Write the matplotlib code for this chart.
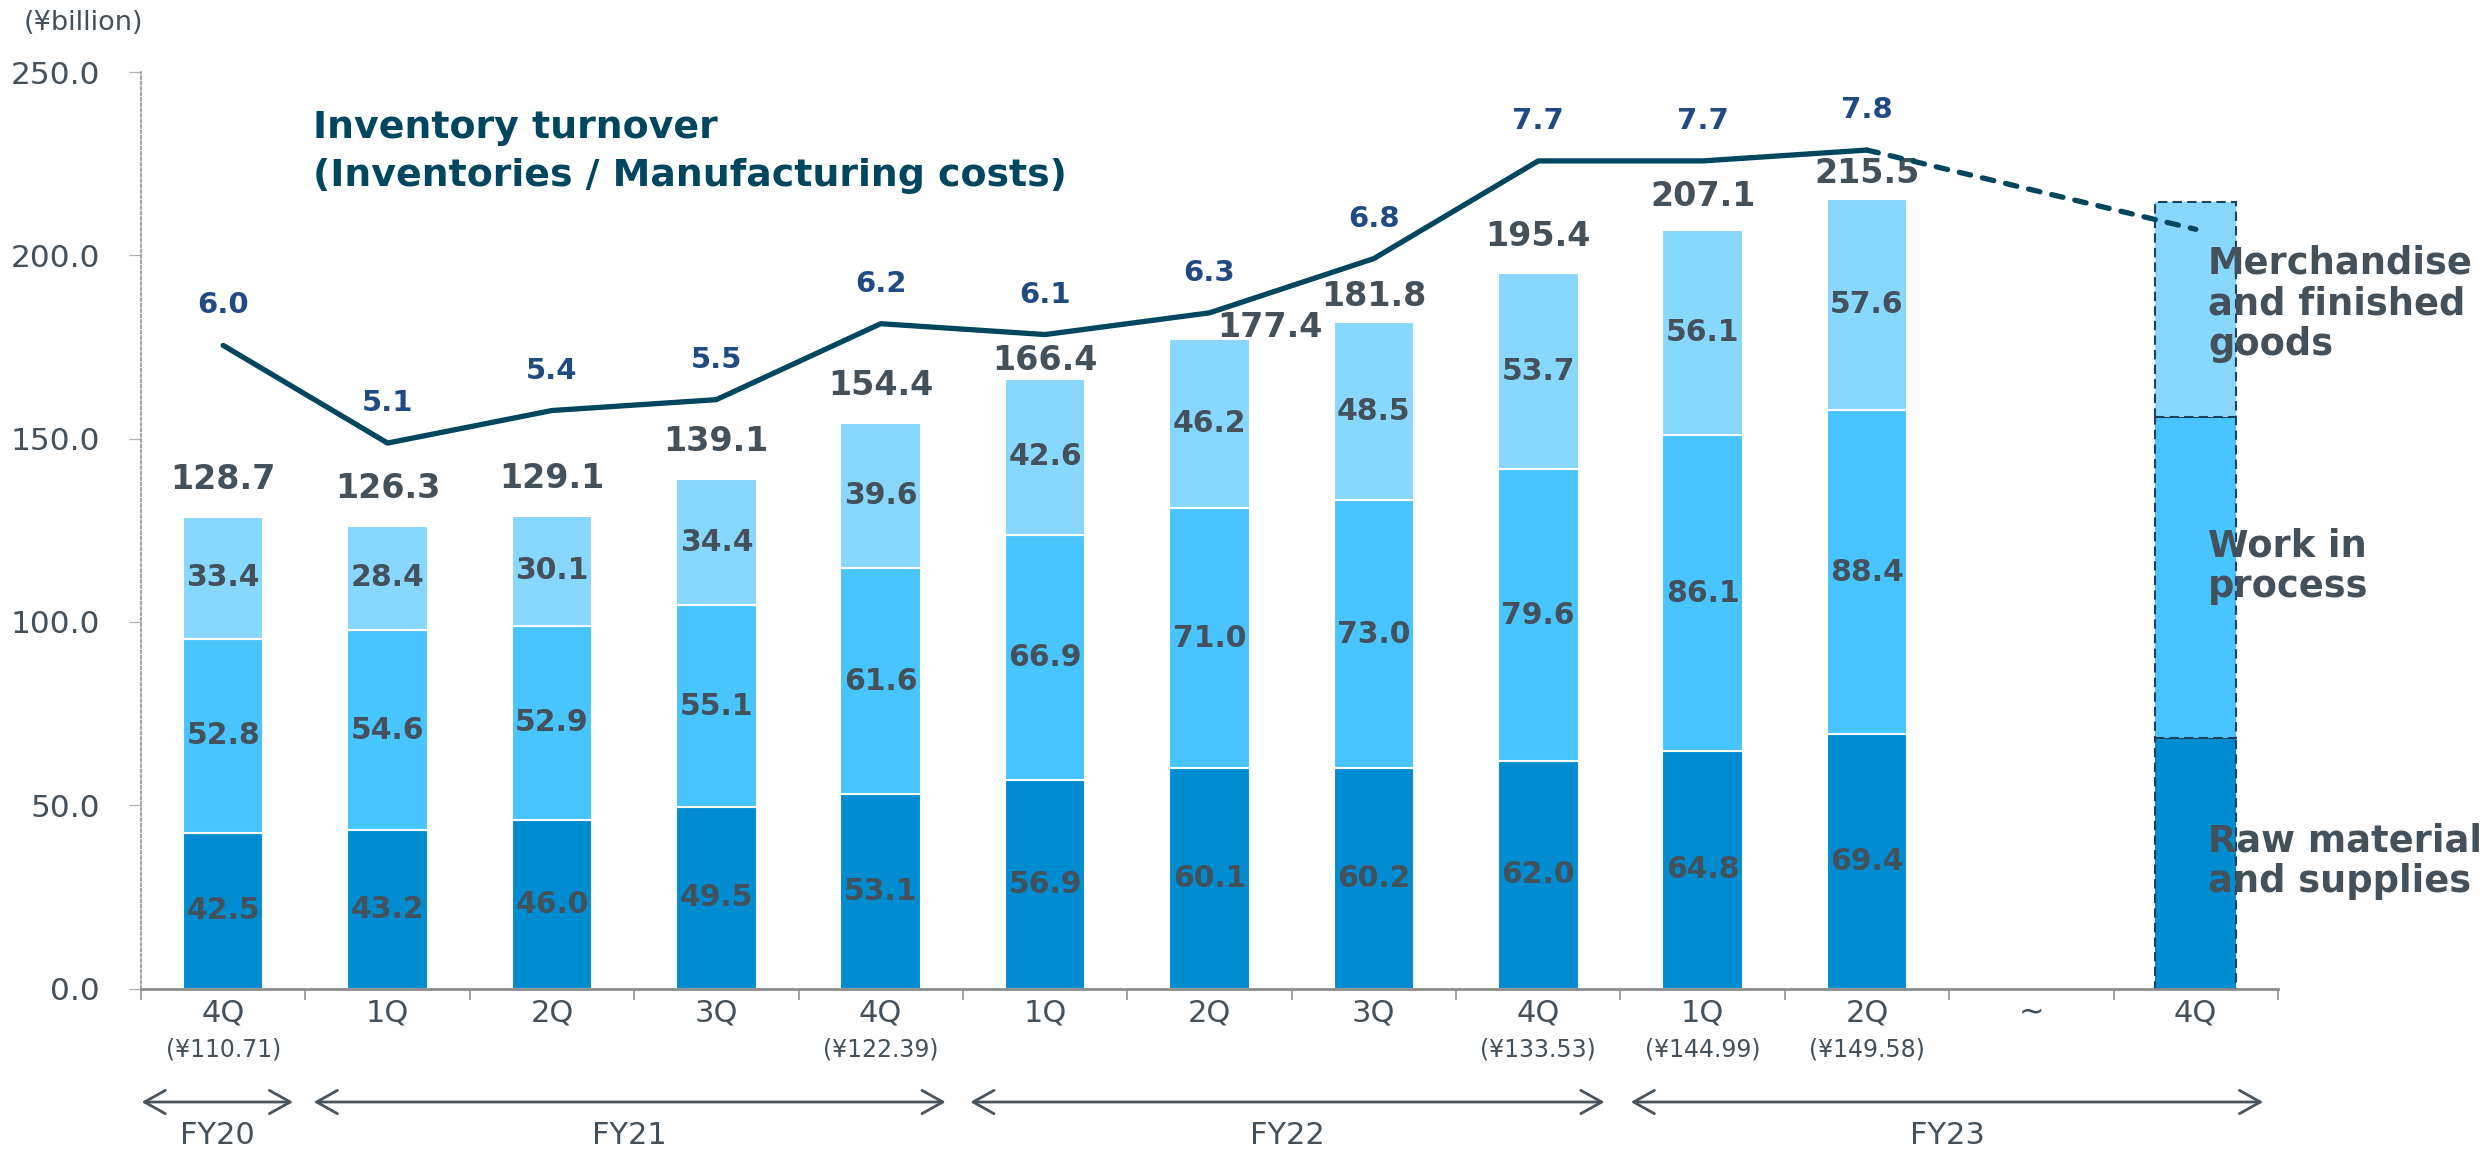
import numpy as np
import matplotlib
matplotlib.use("Agg")
import matplotlib.pyplot as plt
from matplotlib.patches import FancyArrowPatch, ArrowStyle
from matplotlib.transforms import blended_transform_factory
from matplotlib.ticker import FormatStrFormatter

plt.rcParams["font.family"] = ["DejaVu Sans"]

# ---------------------------------------------------------------- data
quarters = ["4Q", "1Q", "2Q", "3Q", "4Q", "1Q", "2Q", "3Q", "4Q", "1Q", "2Q", "\u223c", "4Q"]
fx_rates = ["(¥110.71)", "", "", "", "(¥122.39)", "", "", "", "(¥133.53)",
            "(¥144.99)", "(¥149.58)", "", ""]
fiscal_years = ["FY20", "FY21", "FY22", "FY23"]

raw_material = [42.5, 43.2, 46.0, 49.5, 53.1, 56.9, 60.1, 60.2, 62.0, 64.8, 69.4]
work_in_process = [52.8, 54.6, 52.9, 55.1, 61.6, 66.9, 71.0, 73.0, 79.6, 86.1, 88.4]
finished_goods = [33.4, 28.4, 30.1, 34.4, 39.6, 42.6, 46.2, 48.5, 53.7, 56.1, 57.6]
totals = [128.7, 126.3, 129.1, 139.1, 154.4, 166.4, 177.4, 181.8, 195.4, 207.1, 215.5]
turnover = [6.0, 5.1, 5.4, 5.5, 6.2, 6.1, 6.3, 6.8, 7.7, 7.7, 7.8]

# FY23 4Q outlook (drawn dashed, no value labels)
outlook_raw = 68.3
outlook_wip = 87.6
outlook_fin = 58.7
outlook_turnover = 7.07

# ---------------------------------------------------------------- style
C_RAW = "#008CD1"
C_WIP = "#48C4FF"
C_FIN = "#87D7FF"
C_LINE = "#00465F"
C_TURN_TXT = "#1F4A82"
C_TEXT = "#44505A"
C_AXIS = "#8C8C8C"
C_ARROW = "#4A545E"
BAR_W = 0.49

fig = plt.figure(figsize=(24.88, 11.49), dpi=100)
ax = fig.add_axes([0.05667, 0.1396, 0.8589, 0.7977])
ax2 = ax.twinx()

x_act = np.arange(len(raw_material))
x_out = 12

raw = np.array(raw_material)
wip = np.array(work_in_process)
fin = np.array(finished_goods)

# stacked bars
ax.bar(x_act, raw, BAR_W, color=C_RAW, edgecolor="white", linewidth=1.5, zorder=2)
ax.bar(x_act, wip, BAR_W, bottom=raw, color=C_WIP, edgecolor="white", linewidth=1.5, zorder=2)
ax.bar(x_act, fin, BAR_W, bottom=raw + wip, color=C_FIN, edgecolor="white", linewidth=1.5, zorder=2)

# outlook bar with dashed outline
dash_kw = dict(edgecolor="#1D4260", linewidth=1.5, linestyle=(0, (4.5, 2.5)), zorder=2)
ax.bar(x_out, outlook_raw, BAR_W, color=C_RAW, **dash_kw)
ax.bar(x_out, outlook_wip, BAR_W, bottom=outlook_raw, color=C_WIP, **dash_kw)
ax.bar(x_out, outlook_fin, BAR_W, bottom=outlook_raw + outlook_wip, color=C_FIN, **dash_kw)

# segment value labels
seg_kw = dict(ha="center", va="center", fontsize=21.5, fontweight="bold", color=C_TEXT, zorder=4)
for i in x_act:
    ax.text(i, raw[i] / 2, f"{raw[i]:.1f}", **seg_kw)
    ax.text(i, raw[i] + wip[i] / 2, f"{wip[i]:.1f}", **seg_kw)
    ax.text(i, raw[i] + wip[i] + fin[i] / 2, f"{fin[i]:.1f}", **seg_kw)

# total labels above bars (a few nudged clear of the turnover line)
total_shift = {5: (0, 18), 6: (60, 11), 7: (0, 26), 8: (0, 36), 9: (0, 33), 10: (0, 25)}
for i in x_act:
    dx, dy = total_shift.get(i, (0, 37))
    ax.annotate(f"{totals[i]:.1f}", (i, raw[i] + wip[i] + fin[i]), xytext=(dx, dy),
                textcoords="offset pixels", ha="center", va="center",
                fontsize=24, fontweight="bold", color=C_TEXT, zorder=4)

# axes styling
ax.set_xlim(-0.5, 12.5)
ax.set_ylim(0, 250)
ax.set_yticks(np.arange(0, 251, 50))
ax.yaxis.set_major_formatter(FormatStrFormatter("%.1f"))
ax.set_xticks(np.arange(-0.5, 13, 1))
ax.set_xticklabels([])
ax.tick_params(axis="x", length=8, width=1.1, color=C_AXIS, direction="out")
ax.tick_params(axis="y", length=8.5, width=0.9, color="#B0B0B0", pad=21,
               labelsize=22.5, labelcolor=C_TEXT)
for s in ("top", "right"):
    ax.spines[s].set_visible(False)
ax.spines["bottom"].set_color(C_AXIS)
ax.spines["bottom"].set_linewidth(2.0)
ax.spines["left"].set_color("#9A9A9A")
ax.spines["left"].set_linewidth(1.3)
ax.spines["left"].set_linestyle((0, (1.5, 1.5)))

# turnover line on a hidden secondary scale
ax2.set_ylim(0.073, 8.519)
ax2.axis("off")
ax2.plot(x_act, turnover, color=C_LINE, lw=3.8, solid_capstyle="round",
         solid_joinstyle="round", zorder=3)
ax2.plot([x_act[-1], x_out], [turnover[-1], outlook_turnover], color=C_LINE, lw=3.8,
         linestyle=(0, (2.2, 2.3)), dash_capstyle="round", zorder=3)
for i, t in zip(x_act, turnover):
    ax2.annotate(f"{t:.1f}", (i, t), xytext=(0, 40), textcoords="offset pixels",
                 ha="center", va="center", fontsize=21, fontweight="bold", color=C_TURN_TXT)

# category labels, exchange rates, fiscal-year spans
bt = blended_transform_factory(ax.transData, fig.transFigure)
for i, (q, fx) in enumerate(zip(quarters, fx_rates)):
    fig.text(i, 0.1185, q, transform=bt, ha="center", va="center", fontsize=22, color=C_TEXT)
    if fx:
        fig.text(i, 0.0865, fx, transform=bt, ha="center", va="center", fontsize=17, color=C_TEXT)

fy_spans = [(-0.496, 0.425), (0.551, 4.395), (4.545, 8.403), (8.563, 12.41)]
arrow_style = ArrowStyle("<->", head_length=0.75, head_width=0.42)
for fy, (a, b) in zip(fiscal_years, fy_spans):
    arr = FancyArrowPatch((a, 0.0409), (b, 0.0409), transform=bt, arrowstyle=arrow_style,
                          mutation_scale=20, lw=2.0, color=C_ARROW, shrinkA=0, shrinkB=0)
    fig.add_artist(arr)
    fig.text((a + b) / 2, 0.0118, fy, transform=bt, ha="center", va="center",
             fontsize=22, color=C_TEXT)

# unit, line title and series names
fig.text(0.0096, 0.980, "(¥billion)", ha="left", va="center", fontsize=19.5, color=C_TEXT)
fig.text(0.1258, 0.8675, "Inventory turnover\n(Inventories / Manufacturing costs)",
         ha="left", va="center", fontsize=27.3, fontweight="bold", color=C_LINE, linespacing=1.42)
series_kw = dict(ha="left", va="center", fontsize=26.5, fontweight="bold", color=C_TEXT,
                 linespacing=1.12, zorder=5)
fig.text(0.8875, 0.7355, "Merchandise\nand finished\ngoods", **series_kw)
fig.text(0.8875, 0.5074, "Work in\nprocess", **series_kw)
fig.text(0.8875, 0.2507, "Raw material\nand supplies", **series_kw)

fig.savefig("out.png", dpi=100)
